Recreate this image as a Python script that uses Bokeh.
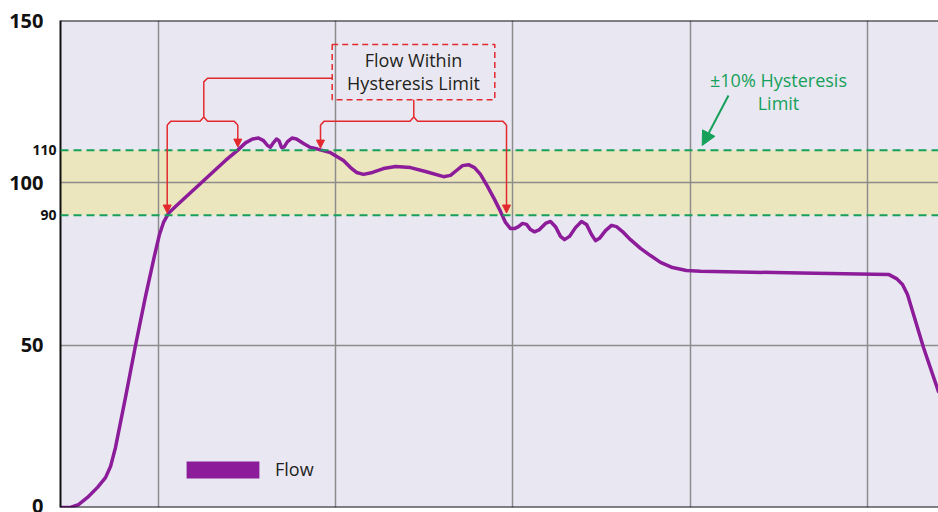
from bokeh.plotting import figure
from bokeh.models import (Span, Arrow, NormalHead, Legend, LegendItem,
                          FixedTicker, ColumnDataSource, LinearAxis)
from bokeh.core.properties import value
from bokeh.embed import file_html
from bokeh.resources import INLINE

# ---------------- data ----------------
# time in grid units (vertical grid lines at 1..5), flow in %
flow_t = [0.4471, 0.5035, 0.5487, 0.5994, 0.6559, 0.7010, 0.7292, 0.7574, 0.8138, 0.8702,
          0.9267, 0.9774, 1.0056, 1.0282, 1.0564, 1.0959, 1.2370, 1.3780,
          1.4457, 1.4908, 1.5303, 1.5642, 1.5924, 1.6150, 1.6319, 1.6488, 1.6657, 1.6798,
          1.6939, 1.7080, 1.7278, 1.7532, 1.7786, 1.8181, 1.8575, 1.8970, 1.9704,
          2.0437, 2.0832, 2.1171, 2.1566, 2.2073, 2.2694, 2.3371, 2.4217, 2.5063, 2.6079,
          2.6474, 2.6813, 2.7151, 2.7489, 2.7828, 2.8166, 2.8561, 2.8956,
          2.9295, 2.9577, 2.9859, 3.0085, 3.0310, 3.0536, 3.0762, 3.0987, 3.1213, 3.1495,
          3.1834, 3.2116, 3.2398, 3.2680, 3.2906, 3.3188, 3.3526, 3.3864, 3.4147, 3.4429,
          3.4654, 3.4880, 3.5219, 3.5557, 3.5839, 3.6178, 3.6629,
          3.7193, 3.7757, 3.8322, 3.8999, 3.9788, 4.0578, 4.6220, 5.1185, 5.1636, 5.1975,
          5.2257, 5.3159, 5.4006]
flow_v = [0.0, 0.0, 0.9, 3.1, 6.2, 9.2, 12.6, 18.5, 33.9, 49.9,
          65.0, 77.6, 84.1, 87.8, 90.6, 92.7, 99.8, 106.9,
          110.0, 112.3, 113.5, 113.8, 113.0, 111.5, 111.0, 112.4, 113.5, 113.0,
          110.9, 111.0, 112.7, 113.8, 113.5, 112.1, 110.9, 110.4, 109.3,
          106.9, 104.7, 103.2, 102.6, 103.2, 104.4, 105.0, 104.7, 103.5, 101.9,
          102.3, 103.8, 105.3, 105.6, 104.7, 102.6, 98.9, 94.9,
          91.2, 87.8, 85.9, 85.9, 86.5, 87.5, 87.2, 85.6, 84.9, 85.6,
          87.5, 88.1, 86.5, 83.5, 82.5, 83.5, 86.2, 88.1, 87.2, 84.1,
          82.2, 82.9, 85.3, 86.9, 86.5, 85.0, 82.5,
          79.8, 77.6, 75.5, 73.9, 73.0, 72.8, 72.2, 71.8, 70.5, 68.7,
          65.6, 49.3, 35.7]

x_start, x_end = 0.4471, 5.4006
y_start, y_end = 0, 150
major_y_ticks = [0, 50, 100, 150]
limit_ticks = [90, 110]
limit_low, limit_high = 90, 110
grid_x = [1, 2, 3, 4, 5]
grid_y = [50, 100]

# annotation geometry (data units)
box_left, box_right, box_bottom, box_top = 1.980, 2.8973, 125.6, 142.6
box_text_x = 2.4386
box_text_y = [137.7, 130.6]
box_text = ["Flow Within", "Hysteresis Limit"]

brL_main_x = [1.980, 1.2765, 1.2556, 1.2556, 1.2341, 1.0705, 1.0491]
brL_main_y = [132.2, 132.2, 131.1, 120.3, 119.0, 119.0, 117.8]
brL_side_x = [1.2556, 1.2770, 1.4260, 1.4474]
brL_side_y = [120.3, 119.0, 119.0, 117.8]
brR_main_x = [2.4403, 2.4403, 2.4189, 1.9354, 1.9140]
brR_main_y = [125.6, 120.3, 119.0, 119.0, 117.8]
brR_side_x = [2.4403, 2.4618, 2.9419, 2.9634]
brR_side_y = [120.3, 119.0, 119.0, 117.8]
red_arrows = [  # x, y_start, y_end
    (1.0491, 117.8, 90.7),
    (1.4474, 117.8, 111.0),
    (1.9140, 117.8, 110.7),
    (2.9634, 117.8, 90.7),
]

green_text_x = 4.4979
green_text_y = [131.7, 124.5]
green_text = ["\u00b110% Hysteresis", "Limit"]
green_arrow = (4.2158, 126.9, 4.0674, 111.5)

# ---------------- styles ----------------
PURPLE = "#8c1c9a"
RED = "#e4292e"
GREEN = "#16a05a"
BAND = "#ebe6bd"
BG = "#e9e8f2"
GRID = "#8c8c8c"
FONT = "Open Sans"
INK = "#111111"

p = figure(width=938, height=512, output_backend="svg", toolbar_location=None,
           x_range=(x_start, x_end), y_range=(y_start, y_end),
           min_border_left=60, min_border_right=0, min_border_top=20,
           min_border_bottom=5)
p.background_fill_color = BG
p.border_fill_color = "white"
p.outline_line_color = None
p.xaxis.visible = False

# inner axis: the 90 / 110 limit labels
inner = p.yaxis[0]
inner.ticker = FixedTicker(ticks=limit_ticks)
inner.major_tick_line_color = None
inner.minor_tick_line_color = None
inner.major_tick_out = 0
inner.major_label_standoff = 4
inner.axis_line_color = INK
inner.axis_line_width = 2
inner.major_label_text_font = FONT
inner.major_label_text_font_style = "bold"
inner.major_label_text_font_size = "14px"
inner.major_label_text_color = INK

# outer axis: 0 / 50 / 100 / 150
outer = LinearAxis(ticker=FixedTicker(ticks=major_y_ticks))
outer.major_tick_line_color = None
outer.minor_tick_line_color = None
outer.major_tick_out = 0
outer.axis_line_color = None
outer.major_label_standoff = -14
outer.major_label_text_font = FONT
outer.major_label_text_font_style = "bold"
outer.major_label_text_font_size = "20px"
outer.major_label_text_color = INK
p.add_layout(outer, "left")

p.xgrid.ticker = FixedTicker(ticks=grid_x)
p.ygrid.ticker = FixedTicker(ticks=grid_y)
for g in (p.xgrid, p.ygrid):
    g.grid_line_color = GRID
    g.grid_line_width = 1.5

# hysteresis band (below the grid)
p.quad(left=[x_start], right=[x_end], bottom=[limit_low], top=[limit_high],
       fill_color=BAND, line_color=None, level="image")

for yv in (limit_low, limit_high):
    p.add_layout(Span(location=yv, dimension="width", line_color=GREEN,
                      line_width=2, line_dash="8 5"))
for yv in (y_start, y_end):
    p.add_layout(Span(location=yv, dimension="width", line_color=INK,
                      line_width=2))

flow_src = ColumnDataSource(data=dict(t=flow_t, v=flow_v))
flow_line = p.line("t", "v", source=flow_src, line_color=PURPLE, line_width=3.5,
                   line_join="round", line_cap="round")

# dashed red annotation box
p.quad(left=[box_left], right=[box_right], bottom=[box_bottom], top=[box_top],
       fill_color=None, line_color=RED, line_width=1.5, line_dash="6 4")
p.text(x=[box_text_x] * 2, y=box_text_y, text=box_text, text_align="center",
       text_baseline="middle", text_font=value(FONT), text_font_size="18px",
       text_color="#231f20")

for xs, ys in ((brL_main_x, brL_main_y), (brL_side_x, brL_side_y),
               (brR_main_x, brR_main_y), (brR_side_x, brR_side_y)):
    p.line(xs, ys, line_color=RED, line_width=1.5, line_join="round")
for ax, ay0, ay1 in red_arrows:
    p.add_layout(Arrow(x_start=ax, y_start=ay0, x_end=ax, y_end=ay1,
                       line_color=RED, line_width=1.5,
                       end=NormalHead(size=8, fill_color=RED, line_color=RED,
                                      line_width=1)))

# green annotation
p.text(x=[green_text_x] * 2, y=green_text_y, text=green_text, text_align="center",
       text_baseline="middle", text_font=value(FONT), text_font_size="18px",
       text_color=GREEN)
gx0, gy0, gx1, gy1 = green_arrow
p.add_layout(Arrow(x_start=gx0, y_start=gy0, x_end=gx1, y_end=gy1,
                   line_color=GREEN, line_width=2,
                   end=NormalHead(size=14, fill_color=GREEN, line_color=GREEN,
                                  line_width=1)))

# legend (proxy swatch placed outside the visible range)
legend_proxy = p.quad(left=[-2], right=[-1], bottom=[-2], top=[-1],
                      fill_color=PURPLE, line_color=None)
legend = Legend(items=[LegendItem(label="Flow", renderers=[legend_proxy])],
                location=(117, 26), orientation="horizontal",
                glyph_width=91, glyph_height=21, label_standoff=7,
                label_height=21, label_text_font=FONT, label_text_font_size="18px",
                label_text_color="#231f20", label_text_baseline="middle",
                padding=0, margin=0, spacing=0,
                background_fill_alpha=0, border_line_color=None)
p.add_layout(legend)

open("out.html", "w").write(file_html(p, INLINE))
